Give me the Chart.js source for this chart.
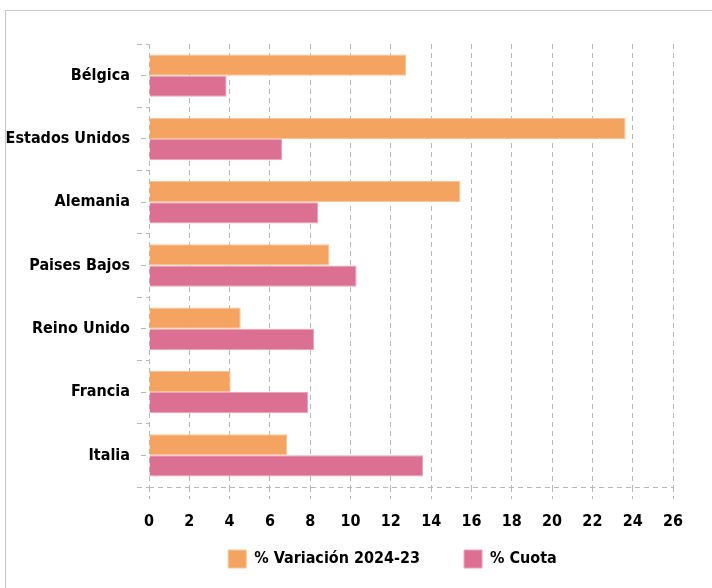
<!DOCTYPE html>
<html>
<head>
    <meta charset="utf-8">
    <title>Variación y cuota por país</title>
    <style>
        body { margin: 0; background: #fff; overflow: hidden; }
        #frame { position: absolute; left: 5px; top: 10px; width: 720px; height: 600px; border: 1px solid #c8c8c8; }
        #chartContainer { position: absolute; left: 0; top: 0; width: 700px; height: 577px; }
    </style>
    <script src="https://cdn.jsdelivr.net/npm/chart.js"></script>
</head>
<body>
    <div id="frame">
        <div id="chartContainer">
            <canvas id="myBarChart"></canvas>
        </div>
    </div>

    <script>
        const countries = ['Bélgica', 'Estados Unidos', 'Alemania', 'Paises Bajos', 'Reino Unido', 'Francia', 'Italia'];
        const variacion = [12.75, 23.65, 15.45, 8.95, 4.55, 4.05, 6.85];
        const cuota = [3.85, 6.6, 8.4, 10.3, 8.2, 7.9, 13.6];
        const xTicks = [0, 2, 4, 6, 8, 10, 12, 14, 16, 18, 20, 22, 24, 26];

        const fontFamily = "'DejaVu Sans Condensed', 'Liberation Sans Narrow', sans-serif";
        const gridColor = '#b8b8b8';
        const dash = [5, 4];

        const ctx = document.getElementById('myBarChart').getContext('2d');
        new Chart(ctx, {
            type: 'bar',
            data: {
                labels: countries,
                datasets: [{
                    label: '% Variación 2024-23',
                    data: variacion,
                    backgroundColor: '#F4A460',
                    borderColor: '#F8C495',
                    borderWidth: 1,
                    categoryPercentage: 0.67,
                    barPercentage: 1.0
                }, {
                    label: '% Cuota',
                    data: cuota,
                    backgroundColor: '#DB7093',
                    borderColor: '#EBA3BA',
                    borderWidth: 1,
                    categoryPercentage: 0.67,
                    barPercentage: 1.0
                }]
            },
            options: {
                indexAxis: 'y',
                responsive: true,
                maintainAspectRatio: false,
                animation: false,
                layout: {
                    padding: { top: 33, right: 33, bottom: 0, left: 0 }
                },
                plugins: {
                    tooltip: { enabled: false },
                    legend: {
                        position: 'bottom',
                        maxHeight: 56,
                        labels: {
                            boxWidth: 18,
                            boxHeight: 18,
                            padding: 44,
                            color: '#000',
                            font: { family: fontFamily, size: 16, weight: 'bold' }
                        }
                    }
                },
                scales: {
                    x: {
                        min: 0,
                        max: 26,
                        afterBuildTicks: (scale) => { scale.ticks = xTicks.map(v => ({ value: v })); },
                        afterFit: (scale) => { scale.height = 45; },
                        grid: {
                            color: gridColor,
                            tickLength: 12,
                            lineWidth: 1
                        },
                        border: { display: false, dash: dash },
                        ticks: {
                            color: '#000',
                            padding: 13,
                            font: { family: fontFamily, size: 16, weight: 'bold' }
                        }
                    },
                    y: {
                        weight: 1,
                        afterFit: (scale) => { scale.width = 143; },
                        grid: {
                            offset: true,
                            // only the bottom boundary (no tick attached) runs across the plot
                            color: (c) => c.tick ? 'rgba(0,0,0,0)' : gridColor,
                            tickColor: gridColor,
                            tickLength: 12
                        },
                        border: { display: false, dash: dash },
                        ticks: {
                            color: '#000',
                            padding: 7,
                            font: { family: fontFamily, size: 16, weight: 'bold' }
                        }
                    },
                    y2: {
                        type: 'category',
                        labels: countries,
                        position: 'left',
                        weight: 0,
                        afterFit: (scale) => { scale.width = 0; },
                        grid: {
                            offset: false,
                            drawOnChartArea: false,
                            color: gridColor,
                            tickLength: 8
                        },
                        border: { display: false },
                        ticks: { display: false }
                    }
                }
            },
            plugins: [{
                id: 'dashedGrid',
                beforeDraw: (chart) => {
                    Object.values(chart.scales).forEach(s => {
                        s.options.grid.tickBorderDash = dash;
                        s.options.border.dash = dash;
                    });
                }
            }, {
                // legend sits a bit right of centre and close under the tick labels
                id: 'legendPlace',
                afterLayout: (chart) => {
                    const lg = chart.legend;
                    const pad = lg.options.labels.padding;
                    lg.left = 106;
                    lg.top = 539 - pad;
                }
            }]
        });
    </script>
</body>
</html>
